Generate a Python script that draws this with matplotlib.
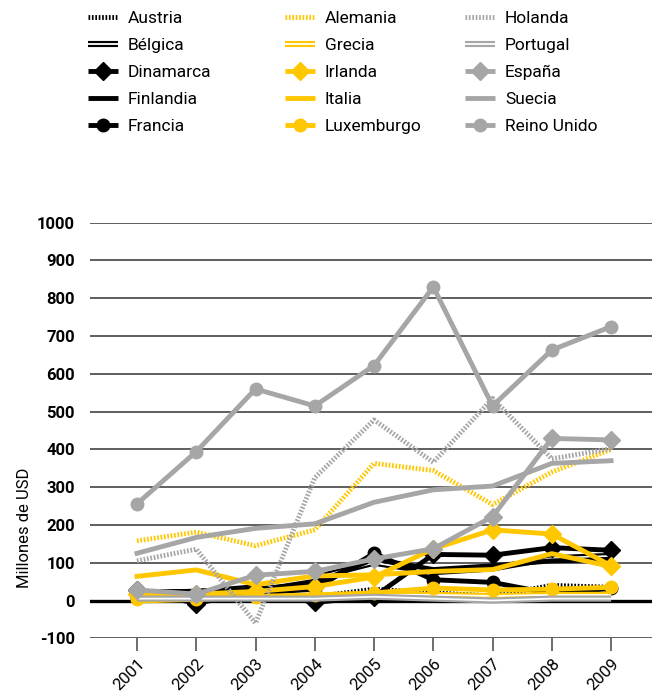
import matplotlib
matplotlib.use("Agg")
import matplotlib.pyplot as plt
from matplotlib.lines import Line2D
from matplotlib.legend_handler import HandlerTuple

plt.rcParams['font.family'] = ['Roboto', 'DejaVu Sans']

years = ["2001", "2002", "2003", "2004", "2005", "2006", "2007", "2008", "2009"]

austria     = [5, 5, 5, 10, 30, 20, 12, 40, 35]
belgica     = [22, 22, 35, 60, 100, 75, 85, 112, 118]
dinamarca   = [28, -8, 25, -5, 10, 122, 120, 140, 133]
finlandia   = [20, 25, 30, 45, 110, 82, 92, 105, 108]
francia     = [10, 12, 20, 30, 125, 55, 48, 18, 32]
alemania    = [158, 181, 145, 187, 363, 344, 254, 340, 400]
grecia      = [0, 5, 10, 10, 15, 15, 12, 15, 15]
irlanda     = [17, 17, 24, 37, 62, 137, 187, 176, 92]
italia      = [64, 81, 42, 65, 68, 77, 82, 124, 90]
luxemburgo  = [5, 5, 10, 15, 20, 33, 28, 30, 35]
holanda     = [105, 136, -60, 325, 478, 366, 535, 375, 402]
portugal    = [5, 5, 5, 5, 10, 5, 0, 5, 5]
espana      = [28, 17, 67, 77, 110, 137, 222, 429, 425]
suecia      = [125, 167, 191, 203, 260, 293, 303, 363, 370]
reino_unido = [256, 394, 560, 515, 622, 830, 515, 663, 725]

names = ["Austria", "Bélgica", "Dinamarca", "Finlandia", "Francia",
         "Alemania", "Grecia", "Irlanda", "Italia", "Luxemburgo",
         "Holanda", "Portugal", "España", "Suecia", "Reino Unido"]
values = [austria, belgica, dinamarca, finlandia, francia,
          alemania, grecia, irlanda, italia, luxemburgo,
          holanda, portugal, espana, suecia, reino_unido]

BLACK = "#000000"
YELLOW = "#FFC700"
GRAY = "#A6A6A6"
colors = [BLACK] * 5 + [YELLOW] * 5 + [GRAY] * 5
kinds = ["dotted", "double", "diamond", "solid", "circle"] * 3

fig = plt.figure(figsize=(6.56, 6.98), dpi=100)
ax = fig.add_axes([90/656, (698-638.3)/698, 562/656, (638.3-222.7)/698])

x = list(range(len(years)))
LW = 3.5
DASH = (0, (0.35, 0.35))
handles = []
for name, vals, col, kind in zip(names, values, colors, kinds):
    if kind == "dotted":
        ax.plot(x, vals, color=col, lw=LW, linestyle=DASH,
                dash_capstyle='butt')
        h = Line2D([], [], color=col, lw=LW, linestyle=DASH,
                   dash_capstyle='butt')
    elif kind == "double":
        ax.plot(x, vals, color=col, lw=4.4, solid_capstyle='butt')
        ax.plot(x, vals, color="white", lw=1.3, solid_capstyle='butt')
        h = (Line2D([], [], color=col, lw=4.4, solid_capstyle='butt'),
             Line2D([], [], color="white", lw=1.3, solid_capstyle='butt'))
    elif kind == "diamond":
        ax.plot(x, vals, color=col, lw=LW, marker="D", markersize=9,
                markeredgecolor=col)
        h = Line2D([], [], color=col, lw=LW, marker="D", markersize=9,
                   solid_capstyle='butt')
    elif kind == "circle":
        ax.plot(x, vals, color=col, lw=LW, marker="o", markersize=9,
                markeredgecolor=col)
        h = Line2D([], [], color=col, lw=LW, marker="o", markersize=9,
                   solid_capstyle='butt')
    else:
        ax.plot(x, vals, color=col, lw=LW)
        h = Line2D([], [], color=col, lw=LW, solid_capstyle='butt')
    handles.append(h)

ax.set_ylim(-100, 1000)
ax.set_xlim(-0.793, 8.69)
yt = list(range(-100, 1001, 100))
ax.set_yticks(yt)
ax.set_yticklabels([str(v) for v in yt], fontweight="bold", fontsize=12)
for v in yt:
    if v == 0:
        ax.axhline(v, color="black", lw=2.4, zorder=0.5)
    else:
        ax.axhline(v, color="#333333", lw=1.1, zorder=0.5)
ax.tick_params(axis="y", length=0, pad=11)
ax.set_xticks(x)
ax.set_xticklabels(years, rotation=45, ha="right", rotation_mode="anchor",
                   fontsize=12)
ax.tick_params(axis="x", length=9, width=1.2, color="#555555", pad=4)
for s in ax.spines.values():
    s.set_visible(False)

fig.text(25/656, 1 - 528/698, "Millones de USD", rotation=90,
         ha="center", va="center", fontsize=12)

col_x = [88/656, 285/656, 465/656]
for c in range(3):
    fig.legend(handles[c*5:(c+1)*5], names[c*5:(c+1)*5],
               loc="upper left", bbox_to_anchor=(col_x[c], 1 - 11/698),
               frameon=False, fontsize=12.5, handlelength=1.75,
               handletextpad=0.55, labelspacing=0.68, borderpad=0,
               borderaxespad=0,
               handler_map={tuple: HandlerTuple(ndivide=1)})

fig.savefig("out.png", dpi=100)
